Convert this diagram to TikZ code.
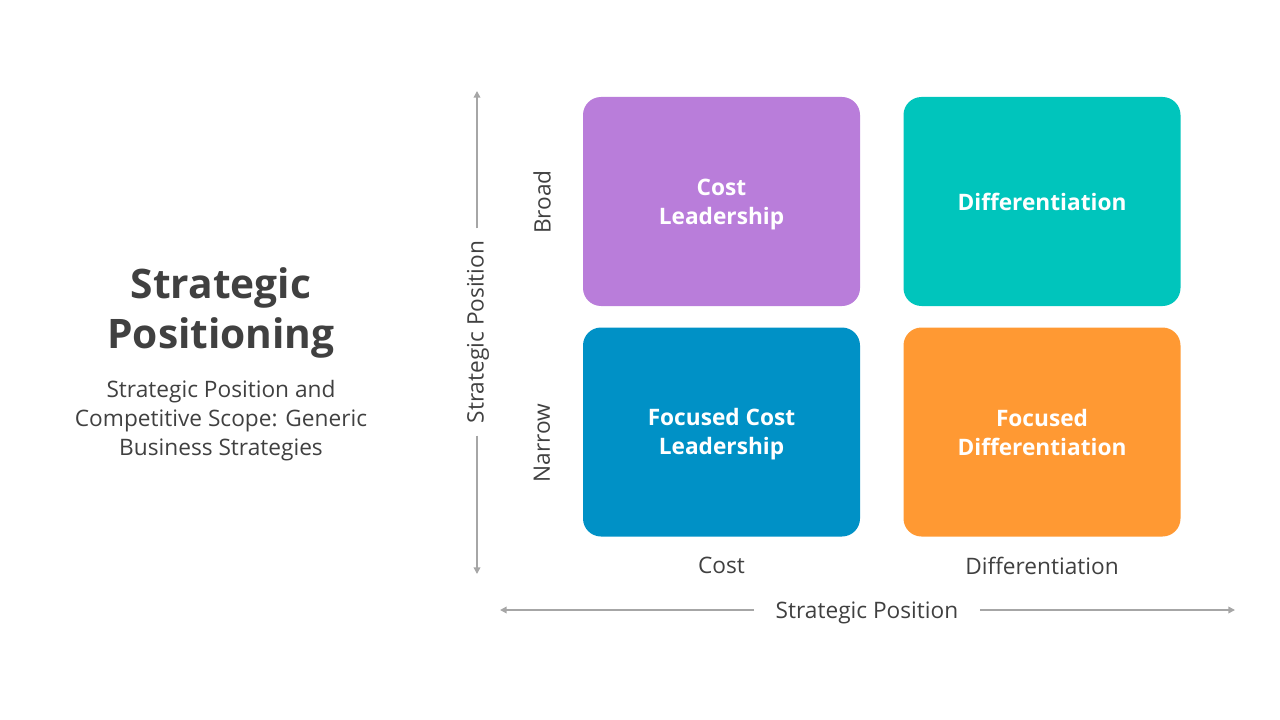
\documentclass[tikz,border=0pt]{standalone}
\usepackage{fontspec}
\setmainfont{Open Sans}
\usetikzlibrary{arrows.meta}
\definecolor{txt}{HTML}{404040}
\definecolor{axisgray}{HTML}{A6A6A6}
\definecolor{cpurple}{HTML}{B97DDA}
\definecolor{cteal}{HTML}{00C5BC}
\definecolor{cblue}{HTML}{0091C6}
\definecolor{corange}{HTML}{FF9933}
\tikzset{
  quad/.style={rounded corners=13.5pt, minimum width=207.75pt, minimum height=156.75pt,
    inner sep=0pt, fill=#1},
  quadtext/.style={text=white, font=\bfseries\fontsize{17}{21.75}\selectfont, align=center, inner sep=0pt},
  axislbl/.style={text=txt, font=\fontsize{17}{20}\selectfont, inner sep=0pt},
  axisline/.style={draw=axisgray, line width=1.1pt, -{Triangle[length=5pt,width=5pt]}},
}
\begin{document}
\begin{tikzpicture}[x=0.75pt,y=-0.75pt]
\useasboundingbox (0,0) rectangle (1280,720);
% title
\node[text=txt, font=\bfseries\fontsize{30.5}{38}\selectfont, align=center] (title) at (221,313) {Strategic\\Positioning};
\node[text=txt, font=\fontsize{17}{21.75}\selectfont, align=center] (sub) at (221,421) {Strategic Position and\\Competitive Scope: Generic\\Business Strategies};
% quadrants
\node[quad=cpurple] (cl) at (721.5,201.5) {};
\node[quad=cteal] (df) at (1042,201.5) {};
\node[quad=cblue] (fcl) at (721.5,432) {};
\node[quad=corange] (fdf) at (1042,432) {};
\node[quadtext] (clt) at ([yshift=-2.25pt]cl.center) {Cost\\Leadership};
\node[quadtext] (dft) at (df.center) {Differentiation};
\node[quadtext] (fclt) at ([yshift=-1.5pt]fcl.center) {Focused Cost\\Leadership};
\node[quadtext] (fdft) at ([yshift=0pt]fdf.center) {Focused\\Differentiation};
% row / column labels
\node[axislbl, rotate=90] (broad) at (542,202) {Broad};
\node[axislbl, rotate=90] (narrow) at (542,443) {Narrow};
\node[axislbl] (ccost) at (721.5,565.5) {Cost};
\node[axislbl] (cdiff) at (1042,565.5) {Differentiation};
% axes
\node[axislbl, rotate=90, inner xsep=9pt] (vlab) at (478,332) {Strategic Position};
\node[axislbl, inner xsep=16pt] (hlab) at (867,612.5) {Strategic Position};
\coordinate (vtop) at (477,91);
\coordinate (vbot) at (477,574);
\coordinate (hleft) at (500,610);
\coordinate (hright) at (1235,610);
\draw[axisline] (vlab.east -| vtop) -- (vtop);
\draw[axisline] (vlab.west -| vtop) -- (vbot);
\draw[axisline] (hlab.west |- hleft) -- (hleft);
\draw[axisline] (hlab.east |- hleft) -- (hright);
\end{tikzpicture}
\end{document}
